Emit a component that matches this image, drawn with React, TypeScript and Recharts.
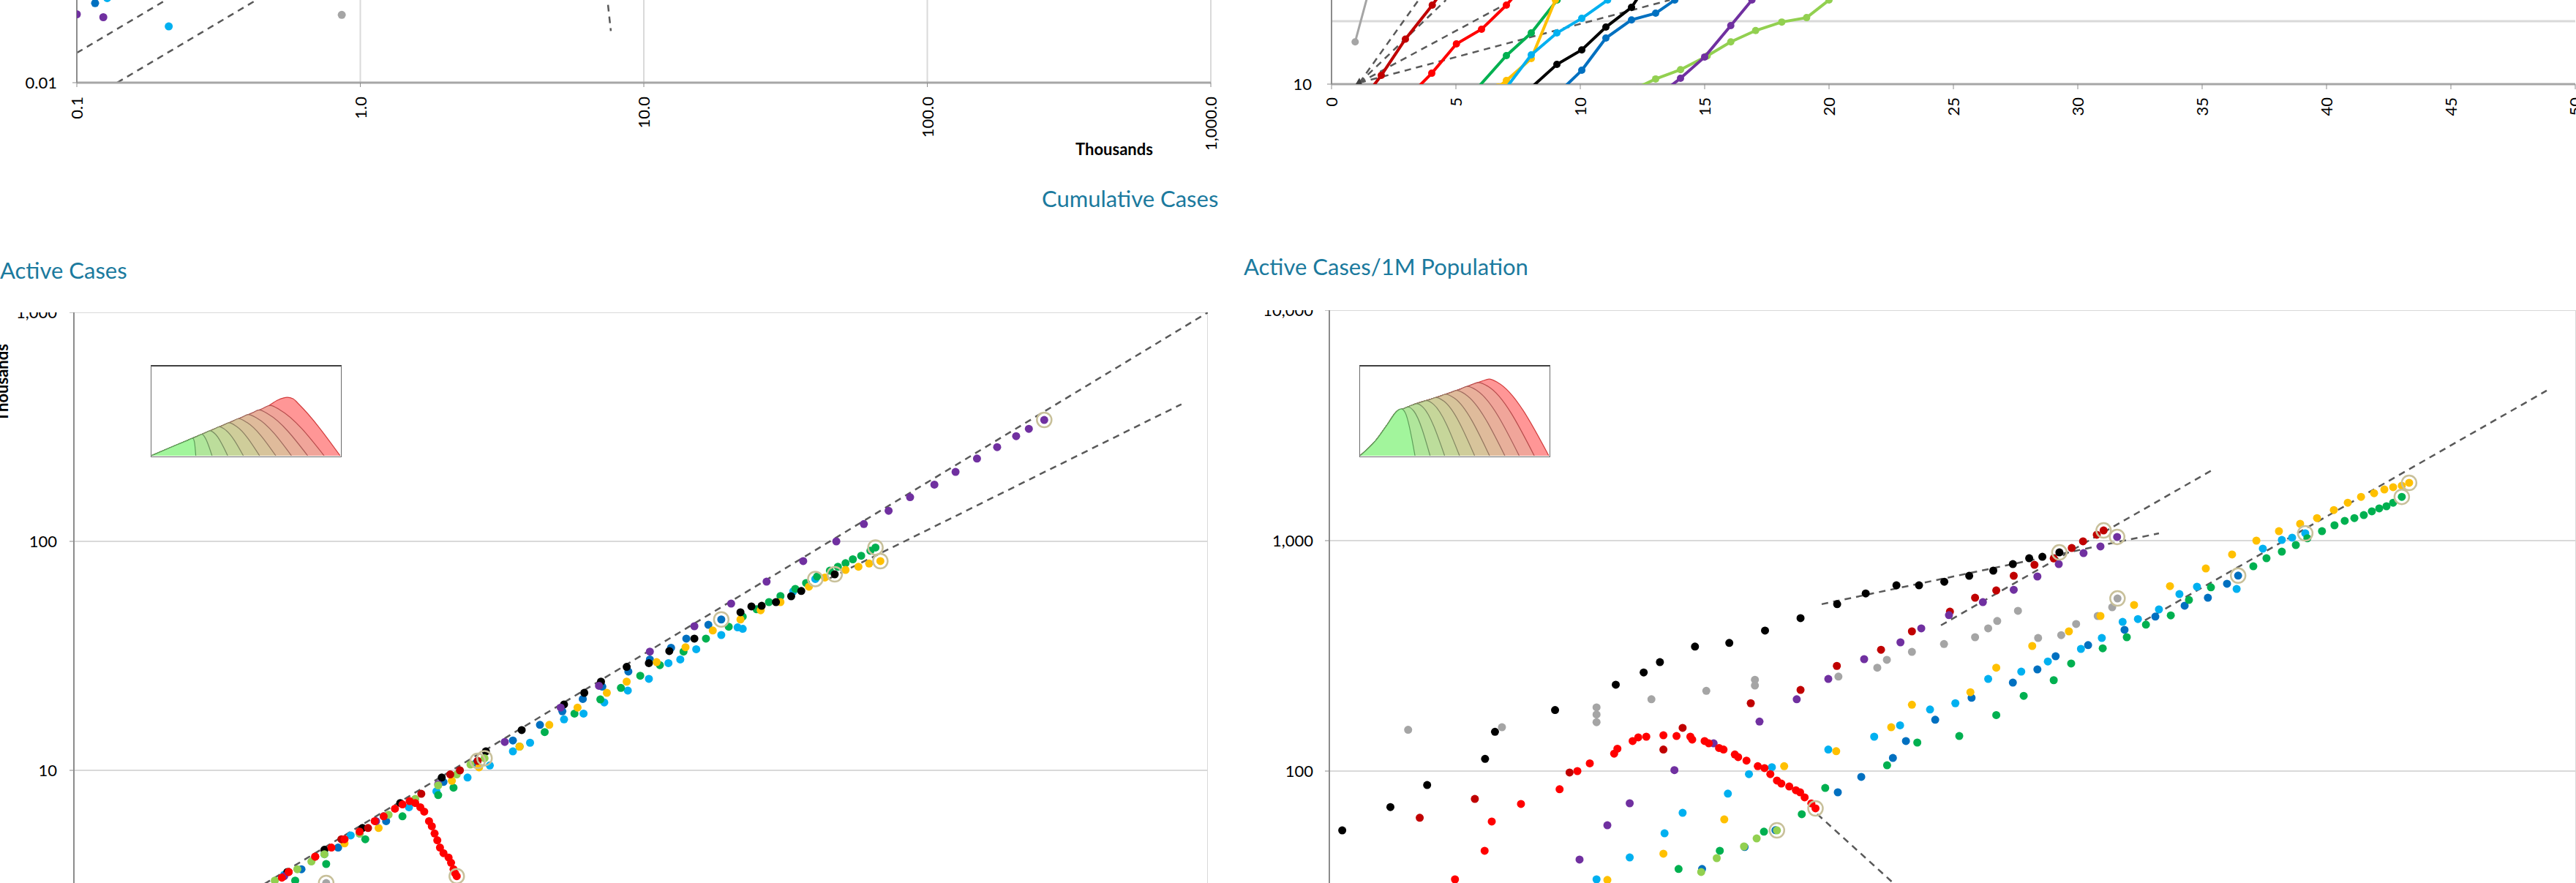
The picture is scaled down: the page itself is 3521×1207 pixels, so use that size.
import React from "react";
import {
  ScatterChart,
  Scatter,
  XAxis,
  YAxis,
  CartesianGrid,
  ReferenceLine,
  AreaChart,
  Area,
} from "recharts";

type XY = [number, number][];

const FONT = "Lato, 'Open Sans', sans-serif";
const TITLE = "#1B7A9E";
const DASH = "#595959";
const GRID = "#D9D9D9";
const AXIS = "#8C8C8C";

const RED = "#FF0000";
const DARKRED = "#C00000";
const BLACK = "#000000";
const GRAY = "#A5A5A5";
const PURPLE = "#7030A0";
const LBLUE = "#00B0F0";
const BLUE = "#0070C0";
const YELLOW = "#FFC000";
const GREEN = "#00B050";
const LGREEN = "#92D050";

// ---- top left: log/log, thousands ----
const TL_X_TICKS = [0.1, 1, 10, 100, 1000];
const TL_Y_TICKS = [0.01];
const TL_PURPLE: XY = [[0.1, 0.0255], [0.124, 0.0245]];
const TL_BLUE: XY = [[0.116, 0.0297]];
const TL_LBLUE: XY = [[0.128, 0.0318], [0.211, 0.0216]];
const TL_GRAY: XY = [[0.86, 0.0253]];
const TL_TRENDS: XY[] = [
  [[0.1, 0.01503], [0.4, 0.0601]],
  [[0.1387, 0.01], [0.8, 0.0577]],
  [[7.4, 0.034], [7.65, 0.0203]],
];

// ---- top right: days since 10th case ----
const TR_X_TICKS = [0, 5, 10, 15, 20, 25, 30, 35, 40, 45, 50];
const TR_GRAY: XY = [[0.95, 47], [1.5, 300]];
const TR_DARKRED: XY = [[1.6, 8.5], [2.0, 13.8], [2.97, 52], [4.05, 180], [5.0, 600]];
const TR_RED: XY = [[3.3, 7.6], [4.03, 14.9], [5.02, 43.6], [6.03, 74.6], [7.03, 180], [8.0, 500]];
const TR_GREEN: XY = [[5.8, 8.1], [7.03, 28.4], [8.03, 65], [9.07, 217], [10, 700]];
const TR_YELLOW: XY = [[6.7, 9], [7.03, 11.4], [8.03, 25.5], [9.0, 217], [9.5, 600]];
const TR_LBLUE: XY = [[7.0, 8.5], [8.03, 29.2], [9.06, 65], [10.06, 111], [11.1, 217], [12, 400]];
const TR_BLACK: XY = [[8.0, 8.6], [9.06, 20.6], [10.06, 35], [11.03, 80.6], [12.06, 166], [13, 600]];
const TR_BLUE: XY = [[9.3, 8.5], [10.06, 16.6], [11.03, 54], [12.06, 105], [13.03, 134], [13.8, 217], [14.5, 500]];
const TR_LGREEN: XY = [[12.3, 8.8], [13.03, 12.1], [14.03, 17], [15.1, 28], [16.05, 47], [17.05, 71], [18.1, 97], [19.1, 114], [20.0, 217], [21, 400]];
const TR_PURPLE: XY = [[13.5, 8.5], [14.03, 12.4], [15.0, 27], [16.05, 85], [16.9, 217], [17.5, 450]];
const TR_ORIGIN: XY = [[1.12, 10.5]];
const TR_FAN: XY[] = [
  [[1.12, 10.5], [3.5, 217]],
  [[1.12, 10.5], [4.6, 217]],
  [[1.12, 10.5], [7.3, 217]],
  [[1.12, 10.5], [13.6, 217]],
];

// ---- bottom left: active cases (thousands) ----
const BL_TICKS = [1, 10, 100, 1000];
const BL_PURPLE: XY = [[3.6, 3.45], [6.3, 6.0], [9.2, 8.7], [13.8, 13.3], [19.4, 18.8], [24.5, 23.4], [33.4, 33], [43.8, 42.6], [54.8, 53.5], [68, 66.7], [85, 82], [104, 100], [123, 119], [143, 136], [163, 156], [189, 177], [215, 201], [245, 230], [277, 258], [311, 288], [336, 310], [369, 339]];
const BL_BLACK: XY = [[3.67, 3.6], [4.6, 4.5], [5.8, 5.6], [7.3, 7.2], [9.4, 9.3], [12.3, 12.1], [15.3, 15.0], [19.8, 19.4], [22.4, 21.8], [24.8, 24.4], [29, 28.3], [33.2, 29.4], [37.6, 33.2], [43.8, 37.6], [58, 49], [62, 52], [66, 52.3], [72, 54.3], [79, 57.6], [84, 60.7], [103, 71.8]];
const BL_GREEN: XY = [[3.85, 3.3], [4.65, 3.9], [5.9, 5.0], [7.4, 6.3], [9.2, 7.8], [10.1, 8.4], [15.1, 12.7], [17.6, 14.7], [21.1, 17.7], [24.7, 20.4], [28, 22.9], [31.5, 25.9], [35.5, 28.8], [41, 33], [47, 37.6], [54, 42.4], [58.8, 46.9], [64, 50.5], [69, 54.3], [74, 57.7], [81, 62], [86.5, 65.8], [92.5, 70.2], [100, 74.5], [105, 77.5], [110, 80.3], [115, 83.5], [121, 86.5], [128, 91], [132, 94]];
const BL_YELLOW: XY = [[5.2, 4.8], [6.4, 5.6], [10.0, 9.0], [11.8, 10.3], [15.1, 12.7], [18.1, 15.8], [21.5, 18.8], [25.7, 21.8], [29, 24.4], [34.8, 29.7], [41.5, 34.5], [49, 40.8], [58, 45.6], [65.6, 50], [74, 54.3], [88, 63.4], [97, 69.5], [110, 75], [119, 77.5], [127, 80], [136, 82]];
const BL_LBLUE: XY = [[3.6, 3.5], [4.6, 4.3], [5.4, 5.2], [6.6, 6.3], [7.7, 6.9], [9.1, 8.1], [11.0, 9.3], [12.6, 10.5], [14.5, 12.1], [16.1, 13.2], [19.8, 16.7], [22.3, 17.7], [25.3, 19.8], [29.2, 22.3], [33.2, 25.1], [37.4, 29.4], [40.2, 30.5], [44.3, 33.8], [51.6, 39], [57, 42.1], [58.8, 41.5], [80, 60.5], [91.5, 68.5]];
const BL_BLUE: XY = [[4.0, 3.7], [5.0, 4.6], [5.7, 5.3], [6.7, 6.0], [9.5, 8.9], [11.6, 10.8], [14.5, 13.5], [17.1, 15.8], [19.6, 18.1], [22.2, 20.5], [25, 23.2], [29.3, 27], [33.4, 30.5], [38, 34.3], [41.7, 37.6], [47.7, 43.2], [51.6, 45.6]];
const BL_LGREEN: XY = [[3.4, 3.3], [3.9, 3.7], [4.25, 4.0], [4.6, 4.3], [5.7, 5.3], [6.8, 6.4], [8.0, 7.5], [9.2, 8.6], [10.3, 9.6], [11.2, 10.6], [12.2, 11.3]];
const BL_DARKRED: XY = [[3.7, 3.6], [4.35, 4.2], [5.1, 5.0], [6.0, 5.6], [8.3, 7.9], [9.9, 9.6], [10.5, 10.0], [11.7, 11.0]];
const BL_GRAY: XY = [[3.2, 2.4], [4.65, 3.22]];
const BL_RED: XY = [[3.55, 3.4], [3.7, 3.6], [4.35, 4.2], [4.8, 4.6], [5.2, 5.0], [5.7, 5.4], [6.25, 6.0], [6.6, 6.3], [7.07, 6.8], [7.4, 7.1], [7.73, 7.34], [8.0, 7.2], [8.25, 6.9], [8.45, 6.6], [8.7, 6.0], [8.85, 5.7], [9.0, 5.3], [9.15, 4.95], [9.3, 4.6], [9.5, 4.35], [9.8, 4.16], [9.95, 3.95], [10.1, 3.7], [10.2, 3.55], [10.3, 3.45]];
const BL_TRENDS: XY[] = [
  [[2.5, 2.5], [1000, 1000]],
  [[100, 69], [851, 397]],
];

// ---- bottom right: active cases per 1M ----
const BR_TICKS = [1, 10, 100, 1000, 10000];
const BR_BLACK: XY = [[1.1, 55.3], [1.57, 69.8], [2.06, 87], [3.16, 113], [3.4, 148], [5.3, 184], [8.3, 237], [10.2, 268], [11.5, 297], [14.9, 347], [19.2, 360], [25, 407], [32.5, 461], [42.6, 530], [52.6, 590], [66, 640], [78, 640], [94, 663], [113, 704], [135, 741], [156, 791], [176, 839], [194, 851], [220, 889]];
const BR_DARKRED: XY = [[1.95, 62.7], [2.93, 75.7], [5.9, 98.6], [11.8, 124], [13.6, 154], [22.5, 197], [32.5, 225], [42.5, 286], [58.9, 336], [74, 404], [98, 492], [118, 565], [138, 608], [157, 704], [183, 785], [211, 837], [241, 929], [262, 993], [290, 1061], [305, 1107]];
const BR_PURPLE: XY = [[6.35, 41.3], [7.8, 58.2], [9.2, 72.5], [12.8, 101], [17.1, 132], [24, 164], [31.6, 205], [39.9, 251], [52, 306], [68, 362], [79.3, 416], [97.3, 475], [125, 541], [157, 612], [187, 699], [219, 791], [263, 883], [298, 944], [337, 1038]];
const BR_GRAY: XY = [[1.79, 151], [3.58, 155], [7.2, 189], [7.2, 176], [7.2, 163], [10.8, 205], [16.2, 223], [23.2, 249], [23.2, 235], [43, 257], [57.3, 281], [61.5, 304], [74, 329], [93.8, 356], [118, 381], [130, 416], [139, 448], [162, 496], [188, 378], [223, 389], [249, 435], [292, 471], [325, 514], [338, 561]];
const BR_RED: XY = [[2.53, 33.9], [3.15, 45.1], [3.32, 60.4], [4.12, 72], [5.48, 83.4], [6.25, 100], [6.85, 108], [8.2, 119], [8.4, 125], [9.4, 135], [9.8, 140], [10.4, 141], [11.8, 143], [13, 142], [14.4, 141], [14.6, 137], [16, 135], [16.5, 132], [17.8, 126], [18.4, 124], [20, 118], [20.5, 115], [21.8, 111], [23.7, 105], [24.9, 103], [26, 97], [27.3, 91], [28.2, 88.3], [29.9, 85.7], [31.4, 82.6], [32.4, 80.9], [33.5, 76.9], [35.2, 72.4], [36.3, 68.9]];
const BR_LBLUE: XY = [[7.2, 33.9], [9.2, 42.2], [11.9, 53.7], [13.6, 65.9], [19, 79.8], [22.2, 97], [26.3, 104], [39.9, 124], [56, 141], [67.8, 158], [84.6, 185], [102, 197], [130, 251], [166, 270], [202, 299], [258, 339], [301, 378], [351, 444], [393, 457], [459, 503], [534, 586], [608, 631], [815, 617], [989, 923], [1138, 1007], [1228, 1030], [1353, 1076]];
const BR_BLUE: XY = [[15.7, 37.6], [21.5, 46.8], [27, 55.4], [42.8, 80.9], [50.9, 94.4], [64.3, 114], [70.8, 135], [87.9, 167], [115, 208], [156, 242], [187, 276], [214, 315], [272, 352], [356, 410], [447, 468], [555, 522], [659, 565], [759, 650], [824, 705]];
const BR_YELLOW: XY = [[7.8, 33.7], [11.8, 43.8], [18.5, 61.7], [28.8, 105], [42.3, 122], [63.5, 155], [74, 194], [114, 220], [138, 281], [180, 349], [236, 404], [298, 471], [382, 526], [498, 635], [649, 757], [788, 871], [943, 1000], [1114, 1099], [1303, 1183], [1476, 1253], [1671, 1358], [1852, 1461], [2043, 1549], [2250, 1606], [2427, 1667], [2590, 1706], [2761, 1731], [2915, 1782]];
const BR_GREEN: XY = [[13.2, 37.6], [17.9, 45.1], [24.8, 54.6], [32.8, 65], [39, 84.5], [61.6, 106], [77, 133], [105, 142], [138, 175], [169, 212], [211, 248], [240, 293], [303, 341], [362, 381], [417, 432], [501, 474], [573, 553], [674, 627], [922, 774], [1016, 839], [1138, 896], [1262, 957], [1374, 1024], [1531, 1099], [1679, 1166], [1811, 1219], [1945, 1253], [2085, 1291], [2213, 1340], [2337, 1380], [2466, 1410], [2590, 1461], [2761, 1549]];
const BR_LGREEN: XY = [[15.6, 36.5], [17.5, 41.9], [21.4, 47.1], [23.5, 51], [27.3, 55.3]];
const BR_TRENDS: XY[] = [
  [[38, 530], [459, 1076]],
  [[91.7, 429], [678, 2019]],
  [[36.8, 65], [150, 11.6]],
  [[414, 451], [8054, 4478]],
];

// ---- inset "wave" legends (box units 0..100) ----
const BL_INSET: XY[] = [
  [[0, 0], [19, 17.1], [21.9, 19.5], [22.8, 15], [23.5, 0]],
  [[0, 0], [24, 21.6], [26.8, 24.1], [28.5, 20], [32.1, 0]],
  [[0, 0], [28, 25.2], [31.1, 28], [34, 24], [40.4, 0]],
  [[0, 0], [33, 29.7], [36, 32.4], [39.5, 28.5], [48.7, 0]],
  [[0, 0], [38, 34.2], [41.1, 37], [45, 33], [57.3, 0]],
  [[0, 0], [43, 38.7], [46.2, 41.6], [50.5, 37.5], [65.9, 0]],
  [[0, 0], [48, 43.2], [51.3, 46.2], [56, 42], [74.2, 0]],
  [[0, 0], [53.5, 48.2], [57, 51.3], [62, 46.5], [82.8, 0]],
  [[0, 0], [59, 53.1], [62.8, 56.5], [68, 51.5], [91.5, 0]],
  [[0, 0], [62, 55.8], [67, 62.5], [72, 65.5], [75, 64], [78, 58], [100, 0]],
];
const BR_INSET: XY[] = [
  [[0, 0], [8.4, 17.3], [14.8, 36], [19.9, 50.7], [21.8, 52.5], [24, 48], [29.1, 0]],
  [[0, 0], [8.4, 17.3], [14.8, 36], [19.9, 50.7], [22.7, 52.5], [25.6, 54.5], [28.5, 50], [37.1, 0]],
  [[0, 0], [8.4, 17.3], [14.8, 36], [19.9, 50.7], [22.7, 52.5], [27.6, 56.8], [30.1, 58.3], [33.5, 54], [44.8, 0]],
  [[0, 0], [8.4, 17.3], [14.8, 36], [19.9, 50.7], [22.7, 52.5], [27.6, 56.8], [32.5, 60], [35.2, 61.8], [39, 57.5], [52.7, 0]],
  [[0, 0], [8.4, 17.3], [14.8, 36], [19.9, 50.7], [22.7, 52.5], [27.6, 56.8], [37.5, 63.4], [40.3, 65.3], [44.5, 61], [60.7, 0]],
  [[0, 0], [8.4, 17.3], [14.8, 36], [19.9, 50.7], [22.7, 52.5], [27.6, 56.8], [40.3, 65.3], [42.5, 66.9], [45.4, 69], [50, 64.5], [68.6, 0]],
  [[0, 0], [8.4, 17.3], [14.8, 36], [19.9, 50.7], [22.7, 52.5], [27.6, 56.8], [40.3, 65.3], [48, 70.9], [51.1, 73.2], [56, 68.5], [76.7, 0]],
  [[0, 0], [8.4, 17.3], [14.8, 36], [19.9, 50.7], [22.7, 52.5], [27.6, 56.8], [40.3, 65.3], [53.1, 74.7], [56.9, 77.8], [62, 73], [84.3, 0]],
  [[0, 0], [8.4, 17.3], [14.8, 36], [19.9, 50.7], [22.7, 52.5], [27.6, 56.8], [40.3, 65.3], [53.1, 74.7], [59, 79.5], [62.6, 82.1], [68, 77.5], [92.3, 0]],
  [[0, 0], [8.4, 17.3], [14.8, 36], [19.9, 50.7], [22.7, 52.5], [27.6, 56.8], [40.3, 65.3], [53.1, 74.7], [60.7, 80.8], [65, 84], [68.4, 85.9], [73, 82], [100, 0]],
];
const INSET_FILLS = ["#A2F59C", "#B0E69B", "#BCDD9B", "#C6D69A", "#CFCD9A", "#D7C49B", "#DFBB9B", "#E8B09B", "#F0A59A", "#FF9696"];
const INSET_STROKES = ["#5E9E5A", "#6E9560", "#7A8E62", "#848864", "#8C7F62", "#957660", "#9E6A5E", "#A95C58", "#B74C4C", "#D23C3C"];

const toPts = (a: XY) => a.map(([x, y]) => ({ x, y }));
const fmtDec = (v: number) =>
  v.toLocaleString("en-US", { minimumFractionDigits: 1, maximumFractionDigits: 1 });
const fmtInt = (v: number) => v.toLocaleString("en-US");

const dot = (color: string, r = 5.5) => (p: any) => (
  <circle cx={p.cx} cy={p.cy} r={r} fill={color} />
);
const ring = (p: any) => (
  <circle cx={p.cx} cy={p.cy} r={10} fill="none" stroke="#C8C09A" strokeWidth={2.5} />
);
const tri = (p: any) => (
  <path d={`M${p.cx - 7},${p.cy + 5} L${p.cx + 5},${p.cy + 5} L${p.cx},${p.cy - 7} Z`} fill="#404040" />
);
const rotTick = (fmt: (v: number) => string) => (p: any) => (
  <text
    transform={`translate(${p.x + 8},${p.y}) rotate(-90)`}
    textAnchor="end"
    fontSize={22}
    fontFamily={FONT}
    fill="#000"
  >
    {fmt(p.payload.value)}
  </text>
);
const yTick = { fill: "#000", fontSize: 22, fontFamily: FONT };

const dashed = (seg: XY, i: number) => (
  <ReferenceLine
    key={"d" + i}
    segment={toPts(seg)}
    stroke={DASH}
    strokeWidth={2.5}
    strokeDasharray="9 7"
    ifOverflow="hidden"
  />
);

function PanelTL() {
  const dots: [XY, string][] = [[TL_PURPLE, PURPLE], [TL_BLUE, BLUE], [TL_LBLUE, LBLUE], [TL_GRAY, GRAY]];
  return (
    <div style={{ position: "absolute", left: 0, top: -577 }}>
      <ScatterChart width={1700} height={820} margin={{ top: 0, right: 45, bottom: 0, left: 0 }}>
        <CartesianGrid stroke={GRID} strokeWidth={2} />
        <XAxis type="number" dataKey="x" scale="log" domain={[0.1, 1000]} ticks={TL_X_TICKS} interval={0}
          height={130} tickSize={6} tickMargin={13} allowDataOverflow
          axisLine={{ stroke: "#A6A6A6", strokeWidth: 3 }} tickLine={{ stroke: AXIS }} tick={rotTick(fmtDec)} />
        <YAxis type="number" dataKey="y" scale="log" domain={[0.01, 10]} ticks={TL_Y_TICKS} interval={0}
          width={105} tickSize={6} tickMargin={21} allowDataOverflow
          axisLine={{ stroke: AXIS, strokeWidth: 2 }} tickLine={{ stroke: AXIS }} tick={yTick}
          tickFormatter={(v: number) => String(v)} />
        {TL_TRENDS.map(dashed)}
        {dots.map(([d, c], i) => (
          <Scatter key={i} data={toPts(d)} shape={dot(c)} isAnimationActive={false} />
        ))}
      </ScatterChart>
    </div>
  );
}

function PanelTR() {
  const lines: [XY, string, number][] = [
    [TR_GRAY, GRAY, 3], [TR_DARKRED, DARKRED, 4], [TR_RED, RED, 4], [TR_GREEN, GREEN, 4],
    [TR_YELLOW, YELLOW, 4], [TR_LBLUE, LBLUE, 4], [TR_BLACK, BLACK, 4], [TR_BLUE, BLUE, 4],
    [TR_LGREEN, LGREEN, 4], [TR_PURPLE, PURPLE, 4],
  ];
  return (
    <div style={{ position: "absolute", left: 1700, top: -229 }}>
      <ScatterChart width={1840} height={454} margin={{ top: 0, right: 20, bottom: 0, left: 0 }}>
        <ReferenceLine y={100} stroke={GRID} strokeWidth={3} />
        <XAxis type="number" dataKey="x" domain={[0, 50]} ticks={TR_X_TICKS} interval={0}
          height={110} tickSize={7} tickMargin={11} allowDataOverflow
          axisLine={{ stroke: "#A6A6A6", strokeWidth: 3 }} tickLine={{ stroke: AXIS }} tick={rotTick(String)} />
        <YAxis type="number" dataKey="y" scale="log" domain={[10, 100000]} ticks={[10]} interval={0}
          width={120} tickSize={6} tickMargin={21} allowDataOverflow
          axisLine={{ stroke: AXIS, strokeWidth: 2 }} tickLine={{ stroke: AXIS }} tick={yTick} />
        {TR_FAN.map(dashed)}
        {lines.map(([d, c, w], i) => (
          <Scatter key={i} data={toPts(d)} line={{ stroke: c, strokeWidth: w }} shape={dot(c, 5)}
            isAnimationActive={false} />
        ))}
        <Scatter data={toPts(TR_ORIGIN)} shape={tri} isAnimationActive={false} />
      </ScatterChart>
    </div>
  );
}

function DotPanel(props: {
  left: number; top: number; width: number; height: number; yWidth: number; tickMargin: number;
  ticks: number[]; series: [XY, string][]; trends: XY[];
}) {
  const { left, top, width, height, yWidth, tickMargin, ticks, series, trends } = props;
  const last = series.map(([d]) => d[d.length - 1]);
  const dom: [number, number] = [ticks[0], ticks[ticks.length - 1]];
  return (
    <div style={{ position: "absolute", left, top }}>
      <ScatterChart width={width} height={height} margin={{ top: 0, right: 0, bottom: 0, left: 0 }}>
        <CartesianGrid stroke={GRID} strokeWidth={2} />
        <XAxis type="number" dataKey="x" scale="log" domain={dom} ticks={ticks} interval={0}
          height={100} allowDataOverflow axisLine={{ stroke: AXIS, strokeWidth: 2 }}
          tick={false} tickLine={false} />
        <YAxis type="number" dataKey="y" scale="log" domain={dom} ticks={ticks} interval={0}
          width={yWidth} tickSize={6} tickMargin={tickMargin} allowDataOverflow
          axisLine={{ stroke: AXIS, strokeWidth: 2 }} tickLine={{ stroke: AXIS }} tick={yTick}
          tickFormatter={fmtInt} />
        {trends.map(dashed)}
        {series.map(([d, c], i) => (
          <Scatter key={i} data={toPts(d)} shape={dot(c)} isAnimationActive={false} />
        ))}
        <Scatter data={toPts(last)} shape={ring} isAnimationActive={false} />
      </ScatterChart>
    </div>
  );
}

function Inset({ left, curves }: { left: number; curves: XY[] }) {
  const order = curves.map((_, i) => i).reverse();
  return (
    <div style={{
      position: "absolute", left, top: 499, width: 261, height: 126, boxSizing: "border-box",
      border: "1.5px solid #6B6B6B", borderTop: "2.5px solid #404040", background: "#fff",
    }}>
      <AreaChart width={258} height={122} margin={{ top: 0, right: 0, bottom: 0, left: 0 }}>
        <XAxis type="number" dataKey="x" domain={[0, 100]} hide allowDataOverflow />
        <YAxis type="number" dataKey="y" domain={[0, 100]} hide allowDataOverflow />
        {order.map((i) => (
          <Area key={i} data={toPts(curves[i])} dataKey="y" type="monotone" fill={INSET_FILLS[i]}
            fillOpacity={1} stroke={INSET_STROKES[i]} strokeWidth={1.2} isAnimationActive={false} />
        ))}
      </AreaChart>
    </div>
  );
}

const titleStyle: React.CSSProperties = {
  position: "absolute", fontFamily: FONT, fontSize: 31, lineHeight: "31px", color: TITLE, whiteSpace: "nowrap",
};

export default function App() {
  const blSeries: [XY, string][] = [
    [BL_GRAY, GRAY], [BL_LBLUE, LBLUE], [BL_BLUE, BLUE], [BL_GREEN, GREEN], [BL_YELLOW, YELLOW],
    [BL_BLACK, BLACK], [BL_PURPLE, PURPLE], [BL_LGREEN, LGREEN], [BL_DARKRED, DARKRED], [BL_RED, RED],
  ];
  const brSeries: [XY, string][] = [
    [BR_GRAY, GRAY], [BR_BLACK, BLACK], [BR_DARKRED, DARKRED], [BR_PURPLE, PURPLE], [BR_LBLUE, LBLUE],
    [BR_BLUE, BLUE], [BR_YELLOW, YELLOW], [BR_GREEN, GREEN], [BR_LGREEN, LGREEN], [BR_RED, RED],
  ];
  return (
    <div style={{
      position: "absolute", left: 0, top: 0, width: 3521, height: 1207, overflow: "hidden",
      background: "#fff", fontFamily: FONT,
    }}>
      <PanelTL />
      <PanelTR />
      <DotPanel left={0} top={427} width={1651} height={1039} yWidth={101} tickMargin={17}
        ticks={BL_TICKS} series={blSeries} trends={BL_TRENDS} />
      <DotPanel left={1700} top={424} width={1821} height={1360} yWidth={117} tickMargin={16}
        ticks={BR_TICKS} series={brSeries} trends={BR_TRENDS} />
      <Inset left={206} curves={BL_INSET} />
      <Inset left={1858} curves={BR_INSET} />
      <div style={{ position: "absolute", left: 1470, top: 193, fontSize: 22, lineHeight: "22px", fontWeight: 700 }}>
        Thousands
      </div>
      <div style={{
        position: "absolute", left: -57, top: 511, width: 120, textAlign: "center", fontSize: 22,
        lineHeight: "24px", fontWeight: 700, transform: "rotate(-90deg)",
      }}>
        Thousands
      </div>
      <div style={{ ...titleStyle, left: 1424, top: 256 }}>Cumulative Cases</div>
      <div style={{ ...titleStyle, left: 0, top: 354 }}>Active Cases</div>
      <div style={{ ...titleStyle, left: 1700, top: 349 }}>Active Cases/1M Population</div>
    </div>
  );
}
